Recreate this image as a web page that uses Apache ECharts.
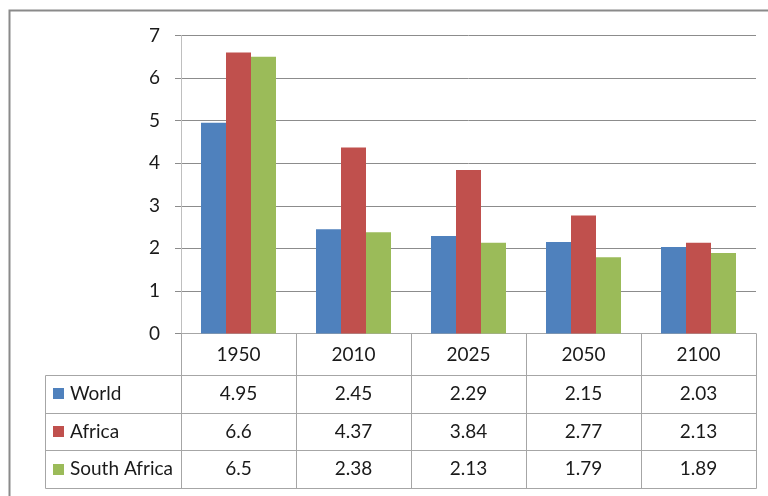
<!DOCTYPE html>
<html>
<head>
<meta charset="utf-8">
<script src="https://cdn.jsdelivr.net/npm/echarts@6/dist/echarts.min.js"></script>
<style>
  html, body { margin: 0; padding: 0; background: #fff; }
  #chart { width: 768px; height: 496px; }
</style>
</head>
<body>
<div id="chart"></div>
<script>
// Total fertility rate by year
const categories = ['1950', '2010', '2025', '2050', '2100'];
const world = [4.95, 2.45, 2.29, 2.15, 2.03];
const africa = [6.6, 4.37, 3.84, 2.77, 2.13];
const southAfrica = [6.5, 2.38, 2.13, 1.79, 1.89];
const seriesNames = ['World', 'Africa', 'South Africa'];
const seriesColors = ['#4F81BD', '#C0504D', '#9BBB59'];
const seriesData = [world, africa, southAfrica];

const FONT = 'Lato';
const FONT_SIZE = 19;
const TEXT_COLOR = '#1a1a1a';
const LINE_COLOR = '#A6A6A6';

const chart = echarts.init(document.getElementById('chart'), null, { renderer: 'canvas' });

const option = {
  animation: false,
  backgroundColor: '#ffffff',
  grid: { left: 181, right: 12, top: 35.5, bottom: 162.5, containLabel: false },
  xAxis: {
    type: 'category',
    data: categories,
    axisLine: { show: true, lineStyle: { color: LINE_COLOR, width: 1 } },
    axisTick: { show: false },
    axisLabel: { show: false },
    splitLine: { show: false }
  },
  yAxis: {
    type: 'value',
    min: 0, max: 7, interval: 1,
    axisLine: { show: true, lineStyle: { color: '#BFBFBF', width: 1 } },
    axisTick: { show: true, length: 6, lineStyle: { color: '#8C8C8C' } },
    axisLabel: { margin: 21, fontFamily: FONT, fontSize: FONT_SIZE, color: TEXT_COLOR },
    splitLine: { show: true, lineStyle: { color: '#8C8C8C', width: 1 } }
  },
  series: seriesNames.map((name, i) => ({
    name,
    type: 'bar',
    data: seriesData[i],
    barWidth: 25,
    barGap: '0%',
    itemStyle: { color: seriesColors[i] }
  }))
};
chart.setOption(option);

// Data table under the plot, aligned to the category bands
const p0 = chart.convertToPixel({ gridIndex: 0 }, [0, 0]);
const p1 = chart.convertToPixel({ gridIndex: 0 }, [1, 0]);
const band = p1[0] - p0[0];
const zeroY = p0[1];
const leftEdge = p0[0] - band / 2;
const rightEdge = leftEdge + band * categories.length;
const tableLeft = 45;
const headerBottom = 375;
const rowH = 37.7;
const rowYs = [headerBottom, headerBottom + rowH, headerBottom + 2 * rowH, headerBottom + 3 * rowH];
const tableBottom = rowYs[3];

const px = v => Math.round(v) + 0.5;
const graphics = [];
const line = (x1, y1, x2, y2) => graphics.push({
  type: 'line', silent: true,
  shape: { x1, y1, x2, y2 },
  style: { stroke: LINE_COLOR, lineWidth: 1 }
});

// outer chart frame
graphics.push({
  type: 'rect', silent: true,
  shape: { x: 9.5, y: 10.5, width: 820, height: 600 },
  style: { fill: null, stroke: '#8A8A8A', lineWidth: 2 }
});

// column separators
for (let i = 0; i <= categories.length; i++) {
  const x = px(leftEdge + band * i);
  line(x, zeroY, x, px(tableBottom));
}
// row separators
rowYs.forEach(y => line(px(tableLeft), px(y), px(rightEdge), px(y)));
line(px(tableLeft), px(headerBottom), px(tableLeft), px(tableBottom));

const font = `${FONT_SIZE}px ${FONT}`;

// category header labels
categories.forEach((c, i) => {
  graphics.push({
    type: 'text', silent: true,
    style: {
      text: c, x: leftEdge + band * (i + 0.5), y: (zeroY + headerBottom) / 2 + 1,
      fill: TEXT_COLOR, font, align: 'center', verticalAlign: 'middle'
    }
  });
});

// series rows: legend key, name and values
seriesNames.forEach((name, r) => {
  const cy = (rowYs[r] + rowYs[r + 1]) / 2;
  graphics.push({
    type: 'rect', silent: true,
    shape: { x: 53, y: Math.round(cy - 5.5), width: 11, height: 11 },
    style: { fill: seriesColors[r] }
  });
  graphics.push({
    type: 'text', silent: true,
    style: {
      text: name, x: 70, y: cy,
      fill: TEXT_COLOR, font, align: 'left', verticalAlign: 'middle'
    }
  });
  seriesData[r].forEach((v, i) => {
    graphics.push({
      type: 'text', silent: true,
      style: {
        text: String(v), x: leftEdge + band * (i + 0.5), y: cy,
        fill: TEXT_COLOR, font, align: 'center', verticalAlign: 'middle'
      }
    });
  });
});

chart.setOption({ graphic: { elements: graphics } });
</script>
</body>
</html>
